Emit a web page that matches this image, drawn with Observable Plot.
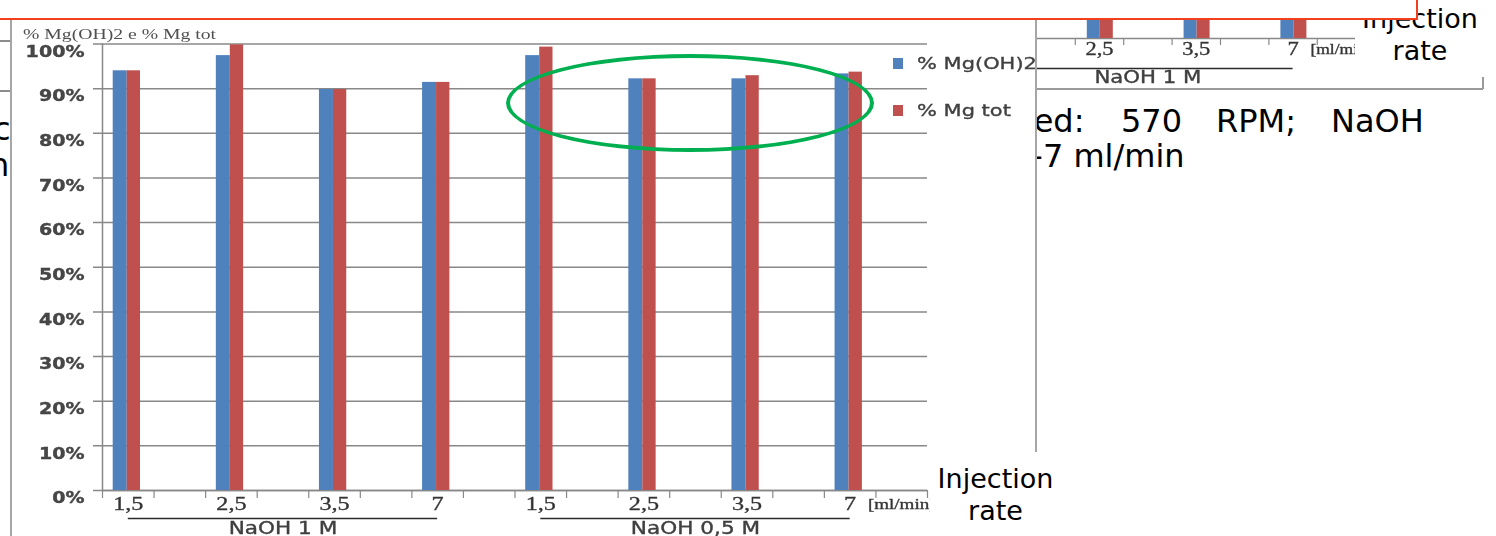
<!DOCTYPE html>
<html>
<head>
<meta charset="utf-8">
<script src="https://cdn.jsdelivr.net/npm/d3@7"></script>
<script src="https://cdn.jsdelivr.net/npm/@observablehq/plot@0.6"></script>
<style>
  html, body { margin: 0; padding: 0; }
  body { width: 1496px; height: 536px; position: relative; overflow: hidden; background: #fff; font-family: "DejaVu Sans", sans-serif; }
  .abs { position: absolute; }
  .slide-text { position: absolute; font-family: "DejaVu Sans", sans-serif; font-size: 32px; line-height: 32px; color: #000; white-space: nowrap; }
  .hline { position: absolute; height: 1.5px; background: #8c8c8c; }
  .vline { position: absolute; width: 2px; background: #a6a6a6; }
  .inj { position: absolute; background: #fff; text-align: center; font-family: "DejaVu Sans", sans-serif; font-size: 27px; line-height: 32px; color: #000; }
  #chart { position: absolute; left: 12px; top: 20px; width: 1023px; height: 516px; overflow: hidden; background: #fff; }
  #chart-inner { position: absolute; left: 0; top: 0; width: 1023px; height: 516px; filter: blur(0.45px); }
  #chart-inner svg { position: absolute; left: 0; top: 0; }
  /* heavier strokes for the regular-weight chart labels */
  #chart-inner svg text:not([font-weight]), #frag svg text { stroke: #3a3a3a; stroke-width: 0.35px; }
  .stretch { position: absolute; white-space: nowrap; transform: scaleX(1.27); transform-origin: left center; }
  .legend-text { -webkit-text-stroke: 0.35px #404040; }
  .swatch { position: absolute; width: 10px; height: 11px; }
  #frag { position: absolute; left: 1037px; top: 19px; width: 446px; height: 69px; overflow: hidden; background: #fff; border-bottom: 2px solid #9a9a9a; filter: blur(0.4px); }
  #frag svg { position: absolute; }
  #ellipse { position: absolute; left: 506px; top: 54px; width: 368px; height: 98px; box-sizing: border-box; border: 4.5px solid #00b050; border-radius: 50%; }
  #redbox { position: absolute; left: 0; top: 0; width: 1416px; height: 18px; background: #fff; border-bottom: 2px solid #f2401f; border-right: 2px solid #f2401f; }
</style>
</head>
<body>
<script>
// ---- data ----
const rates = ["1,5", "2,5", "3,5", "7"];
const concentrations = ["NaOH 1 M", "NaOH 0,5 M"];
const seriesNames = ["% Mg(OH)2", "% Mg tot"];
const seriesColors = ["#4f81bd", "#c0504d"];
// one value per (concentration, rate), in the order of the two arrays above
const mgOH2 = [94.0, 97.4, 89.8, 91.4, 97.4, 92.2, 92.2, 93.3];
const mgTot = [94.0, 99.8, 89.8, 91.4, 99.3, 92.2, 92.9, 93.7];
const yTicks = [0, 10, 20, 30, 40, 50, 60, 70, 80, 90, 100];
const unitLabel = "[ml/min]";
const chartTitle = "% Mg(OH)2 e % Mg tot";
const axisTitle = ["Injection", "rate"];
const slideLine1 = ["speed:", "570", "RPM;", "NaOH"];
const slideLine2 = "1-7 ml/min";

// ---- category slots: every rate is followed by an empty spacer slot ----
function buildSlots(concs) {
  const slots = [];
  concs.forEach(c => rates.forEach(r => {
    slots.push({key: `${c} ${r}`, label: r});
    slots.push({key: `${c} ${r} gap`, label: ""});
  }));
  slots[slots.length - 1].label = unitLabel;
  return slots;
}
function buildRows(concs) {
  const rows = [];
  concs.forEach(c => rates.forEach(r => {
    const i = concentrations.indexOf(c) * rates.length + rates.indexOf(r);
    rows.push({slot: `${c} ${r}`, series: seriesNames[0], value: mgOH2[i]});
    rows.push({slot: `${c} ${r}`, series: seriesNames[1], value: mgTot[i]});
  }));
  return rows;
}
function buildGroups(concs) {
  return concs.map(c => ({
    conc: c,
    first: `${c} ${rates[0]}`,
    last: `${c} ${rates[rates.length - 1]}`,
    mid: `${c} ${rates[1]} gap`
  }));
}

// stretch the chart's text horizontally, like the wide original figure
function stretchText(svg, factor) {
  svg.querySelectorAll("text").forEach(t => {
    const len = t.getComputedTextLength();
    if (len > 0) {
      t.setAttribute("textLength", (len * factor).toFixed(1));
      t.setAttribute("lengthAdjust", "spacingAndGlyphs");
    }
  });
}

function clusteredBars(o) {
  const keys = o.slots.map(d => d.key);
  const slotW = (o.width - o.marginLeft - o.marginRight) / keys.length;
  const labelled = o.slots.filter(d => d.label && d.label !== unitLabel);
  const unit = o.slots.filter(d => d.label === unitLabel);
  const axisStroke = "#888888";
  return Plot.plot({
    width: o.width,
    height: o.height,
    marginLeft: o.marginLeft,
    marginRight: o.marginRight,
    marginTop: o.marginTop,
    marginBottom: o.marginBottom,
    x: {domain: keys, padding: 0, round: false, axis: null},
    y: {domain: [0, 100], axis: null},
    style: {background: "transparent", overflow: "visible"},
    marks: [
      o.grid ? Plot.ruleY(yTicks, {stroke: axisStroke, strokeWidth: 1.5, insetLeft: -9}) : null,
      Plot.ruleY([0], {stroke: axisStroke, strokeWidth: 1.5}),
      Plot.barY(o.rows.filter(d => d.series === seriesNames[0]), {
        x: "slot", y: "value", fill: seriesColors[0],
        insetLeft: o.bar[0], insetRight: slotW - o.bar[1]
      }),
      Plot.barY(o.rows.filter(d => d.series === seriesNames[1]), {
        x: "slot", y: "value", fill: seriesColors[1],
        insetLeft: o.bar[1], insetRight: slotW - o.bar[2]
      }),
      o.grid ? Plot.ruleX([keys[0]], {dx: -slotW / 2, y1: 0, y2: 100, stroke: axisStroke, strokeWidth: 1.5}) : null,
      Plot.ruleX(keys, {dx: -slotW / 2, y1: 0, y2: 0, insetTop: 0, insetBottom: -o.tick, stroke: axisStroke, strokeWidth: 1.2}),
      Plot.ruleX(keys.slice(-1), {dx: slotW / 2, y1: 0, y2: 0, insetTop: 0, insetBottom: -o.tick, stroke: axisStroke, strokeWidth: 1.2}),
      o.grid ? Plot.text(yTicks, {
        y: d => d, text: d => d + "%", frameAnchor: "left", textAnchor: "end",
        dx: -18, dy: 8, fontFamily: "DejaVu Sans", fontWeight: "bold", fontSize: 15, fill: "#474747"
      }) : null,
      Plot.text(labelled, {
        x: "key", y: () => 0, text: "label", dy: o.labelDy, lineAnchor: "bottom",
        fontFamily: "Liberation Serif", fontSize: o.labelSize, fill: "#333333"
      }),
      Plot.text(unit, {
        x: "key", y: () => 0, text: "label", dy: o.labelDy - 1, dx: o.unitDx, lineAnchor: "bottom",
        textAnchor: o.unitAnchor, fontFamily: "Liberation Serif", fontSize: o.unitSize, fill: "#333333"
      }),
      // group brackets run from the first to the last rate of each concentration
      Plot.ruleY(o.groups, {
        y: () => 0, x1: "first", x2: "last", dx: slotW / 2, insetRight: slotW, dy: o.groupLineDy,
        stroke: "#2b2b2b", strokeWidth: 1.5
      }),
      Plot.text(o.groups, {
        x: "mid", y: () => 0, text: "conc", dy: o.groupDy, lineAnchor: "bottom",
        fontFamily: "DejaVu Sans", fontSize: 17, fill: "#404040"
      })
    ]
  });
}

function el(tag, cls, parent, styles, text) {
  const e = document.createElement(tag);
  if (cls) e.className = cls;
  Object.assign(e.style, styles || {});
  if (text != null) e.textContent = text;
  (parent || document.body).appendChild(e);
  return e;
}

// ---- slide background ----
el("div", "hline", null, {left: "0px", top: "40px", width: "10px"});
el("div", "hline", null, {left: "0px", top: "90px", width: "10px"});
el("div", "slide-text", null, {left: "-7px", top: "113px"}, "c");
el("div", "slide-text", null, {left: "-11px", top: "149px"}, "n");
const wordLefts = [977, 1121, 1216, 1331];
slideLine1.forEach((w, i) => el("div", "slide-text", null, {left: wordLefts[i] + "px", top: "105px"}, w));
el("div", "slide-text", null, {left: "1011px", top: "140px"}, slideLine2);

// ---- fragment of the companion chart (NaOH 1 M only) ----
const frag = el("div", null, null, {}, null);
frag.id = "frag";
const fragSvg = clusteredBars({
  slots: buildSlots([concentrations[0]]),
  rows: buildRows([concentrations[0]]),
  groups: buildGroups([concentrations[0]]),
  width: 387.2, height: 469, marginLeft: 0, marginRight: 0, marginTop: 0, marginBottom: 50,
  grid: false, bar: [12, 25, 38], tick: 7, labelDy: 17, labelSize: 18,
  unitSize: 14, unitAnchor: "middle", unitDx: 0, groupLineDy: 30, groupDy: 45
});
fragSvg.style.left = (978.2 - 1037) + "px";
fragSvg.style.top = "-400px";
frag.appendChild(fragSvg);
stretchText(fragSvg, 1.25);
el("div", "abs", null, {left: "1482px", top: "77px", width: "2px", height: "12px", background: "#9a9a9a"});

// axis title beside the companion chart
const injTop = el("div", "inj", null, {left: "1355px", top: "3px", width: "130px", height: "72px"});
injTop.innerHTML = axisTitle.join("<br>");

// ---- main chart ----
const chart = el("div", null, null, {});
chart.id = "chart";
const inner = el("div", null, chart, {});
inner.id = "chart-inner";
const mainSvg = clusteredBars({
  slots: buildSlots(concentrations),
  rows: buildRows(concentrations),
  groups: buildGroups(concentrations),
  width: 1023, height: 516, marginLeft: 90, marginRight: 108, marginTop: 23.5, marginBottom: 46,
  grid: true, bar: [10.7, 24.7, 38], tick: 8, labelDy: 19, labelSize: 19,
  unitSize: 15, unitAnchor: "middle", unitDx: 0, groupLineDy: 28, groupDy: 43
});
inner.appendChild(mainSvg);
stretchText(mainSvg, 1.27);

// chart title
el("div", "stretch", inner, {left: "11px", top: "6px", fontFamily: "Liberation Serif", fontSize: "15.5px", lineHeight: "16px", color: "#505050"}, chartTitle);

// legend
const legendTops = [38, 85];
seriesNames.forEach((name, i) => {
  el("div", "swatch", inner, {left: "881px", top: legendTops[i] + "px", background: seriesColors[i]});
  el("div", "stretch legend-text", inner, {left: "905px", top: (legendTops[i] - 3) + "px", fontFamily: "DejaVu Sans", fontSize: "16.5px", lineHeight: "17px", color: "#404040"}, name);
});

// chart borders
el("div", "vline", null, {left: "10px", top: "20px", height: "516px"});
el("div", "vline", null, {left: "1035px", top: "20px", height: "516px"});

// axis title below the main chart
const injBottom = el("div", "inj", null, {left: "930px", top: "452px", width: "131px", height: "84px", paddingTop: "11px", boxSizing: "border-box"});
injBottom.innerHTML = axisTitle.join("<br>");

// highlight around the NaOH 0,5 M results
const ell = el("div", null, null, {});
ell.id = "ellipse";

// text box frame at the top of the slide
const red = el("div", null, null, {});
red.id = "redbox";
</script>
</body>
</html>
